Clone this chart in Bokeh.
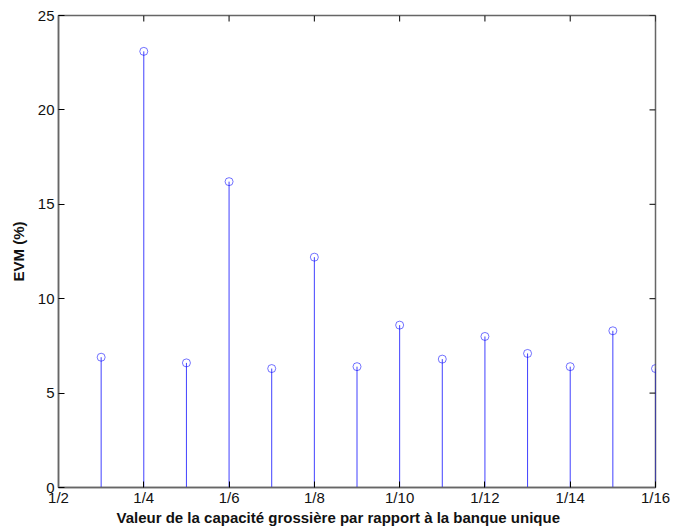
import math
from bokeh.plotting import figure
from bokeh.models import ColumnDataSource, LinearAxis, FixedTicker, Range1d, Title
from bokeh.embed import file_html
from bokeh.resources import INLINE

# Data: capacity ratio denominators (1/n) and EVM values (%)
denominators = [3, 4, 5, 6, 7, 8, 9, 10, 11, 12, 13, 14, 15, 16]
evm_values = [6.9, 23.1, 6.6, 16.2, 6.3, 12.2, 6.4, 8.6, 6.8, 8.0, 7.1, 6.4, 8.3, 6.3]
x_tick_denoms = [2, 4, 6, 8, 10, 12, 14, 16]
x_tick_labels = ["1/%d" % d for d in x_tick_denoms]
y_ticks = [0, 5, 10, 15, 20, 25]

FONT = "Liberation Sans"

src = ColumnDataSource(dict(x=denominators, y=evm_values, y0=[0] * len(denominators)))

x_range = Range1d(2, 16)
y_range = Range1d(0, 25)

p = figure(frame_width=597, frame_height=472,
           x_range=x_range, y_range=y_range,
           output_backend="svg", toolbar_location=None,
           min_border_left=58, min_border_right=16,
           min_border_top=15, min_border_bottom=36,
           x_axis_location=None, y_axis_location=None)
p.grid.visible = False
p.outline_line_color = "#666666"
p.outline_line_width = 1.5
p.background_fill_color = "white"
p.border_fill_color = "white"

p.segment(x0="x", y0="y0", x1="x", y1="y", source=src,
          line_color="#0000FF", line_alpha=0.75, line_width=1)
p.scatter(x="x", y="y", source=src, marker="circle", size=8,
          fill_color=None, line_color="#0000FF", line_alpha=0.55, line_width=1)

# inward ticks on the top and right edges of the box (MATLAB style)
top_src = ColumnDataSource(dict(x=x_tick_denoms, y=[y_range.end] * len(x_tick_denoms)))
right_src = ColumnDataSource(dict(x=[x_range.end] * len(y_ticks), y=y_ticks))
p.ray(x="x", y="y", source=top_src, length=6, length_units="screen",
      angle=-math.pi / 2, line_color="black", line_width=1)
p.ray(x="x", y="y", source=right_src, length=6, length_units="screen",
      angle=math.pi, line_color="black", line_width=1)

xt = FixedTicker(ticks=x_tick_denoms)
yt = FixedTicker(ticks=y_ticks)
overrides = {d: lab for d, lab in zip(x_tick_denoms, x_tick_labels)}


def style(ax):
    ax.axis_line_color = "#666666"
    ax.axis_line_width = 1.5
    ax.major_tick_line_color = "black"
    ax.major_tick_in = 6
    ax.major_tick_out = 0
    ax.minor_tick_in = 0
    ax.minor_tick_out = 0
    ax.major_label_text_font = FONT
    ax.major_label_text_font_size = "15px"
    ax.major_label_text_color = "#111111"
    ax.axis_label_text_font = FONT
    ax.axis_label_text_font_style = "bold"
    ax.axis_label_text_font_size = "15px"
    ax.axis_label_text_color = "#111111"


bottom = LinearAxis(ticker=xt)
bottom.major_label_overrides = overrides
style(bottom)
bottom.major_label_standoff = 1
p.add_layout(bottom, "below")

xlabel = Title(text="Valeur de la capacité grossière par rapport à la banque unique",
               align="left", offset=58, standoff=0, vertical_align="top",
               text_line_height=1.0,
               text_font=FONT, text_font_style="bold", text_font_size="15px",
               text_color="#111111")
p.add_layout(xlabel, "below")

left = LinearAxis(ticker=yt, axis_label="EVM (%)")
style(left)
left.major_label_standoff = 4
left.axis_label_standoff = 8
p.add_layout(left, "left")

open("out.html", "w").write(file_html(p, INLINE))
